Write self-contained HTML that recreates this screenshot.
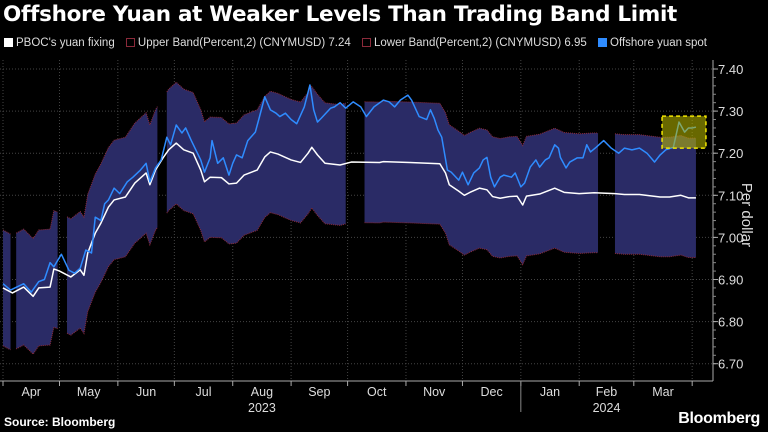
<!DOCTYPE html>
<html><head><meta charset="utf-8"><style>
html,body{margin:0;padding:0;background:#000;width:768px;height:432px;overflow:hidden;font-family:"Liberation Sans",sans-serif;color:#fff}
#title{position:absolute;left:3px;top:2px;font-family:"DejaVu Sans",sans-serif;font-size:21.5px;font-weight:bold;letter-spacing:-0.3px;white-space:nowrap}
#legend{position:absolute;left:4px;top:37px;font-size:11.5px;color:#ddd;white-space:nowrap}
.li{display:inline-block;margin-right:8px}
.sw{display:inline-block;width:9px;height:9px;margin-right:3px;vertical-align:-1px}
#src{position:absolute;left:4px;top:415px;font-size:12px;font-weight:bold}
#bb{position:absolute;right:8px;top:410px;font-size:16px;font-weight:bold;letter-spacing:-0.3px}
svg{position:absolute;left:0;top:0}
</style></head><body>
<div id="title">Offshore Yuan at Weaker Levels Than Trading Band Limit</div>
<div id="legend">
<span class="li"><span class="sw" style="background:#fff"></span>PBOC's yuan fixing</span>
<span class="li"><span class="sw" style="border:1px solid #8b2a3a;width:7px;height:7px"></span>Upper Band(Percent,2) (CNYMUSD) 7.24</span>
<span class="li"><span class="sw" style="border:1px solid #8b2a3a;width:7px;height:7px"></span>Lower Band(Percent,2) (CNYMUSD) 6.95</span>
<span class="li"><span class="sw" style="background:#2f8cff"></span>Offshore yuan spot</span>
</div>
<svg id="chart" width="768" height="432"></svg>
<div id="src">Source: Bloomberg</div>
<div id="bb">Bloomberg</div>
<script>
// days since 2023-04-01
const fixDays=[0,5,11,16,19,25,27,30,36,41,43,45,49,52,56,59,65,70,76,78,81,85,88,92,96,101,105,107,110,116,120,124,128,132,135,139,142,146,153,158,162,164,167,171,179,185,200,202,216,232,235,237,242,245,248,253,257,260,264,269,273,276,278,285,293,298,306,314,325,330,338,349,354,360,364,368];
const fixVals=[6.88,6.868,6.882,6.86,6.88,6.882,6.925,6.92,6.906,6.923,6.91,6.963,7.01,7.034,7.072,7.089,7.096,7.129,7.153,7.125,7.16,7.189,7.208,7.224,7.208,7.2,7.16,7.132,7.143,7.142,7.127,7.129,7.148,7.155,7.16,7.191,7.203,7.198,7.184,7.178,7.2,7.214,7.196,7.176,7.172,7.179,7.178,7.18,7.178,7.175,7.153,7.125,7.11,7.1,7.107,7.117,7.113,7.097,7.093,7.097,7.098,7.077,7.098,7.103,7.117,7.107,7.104,7.106,7.104,7.102,7.102,7.096,7.096,7.1,7.094,7.094];
const spotDays=[0,4,11,15,19,22,25,27,31,35,38,41,44,47,49,52,54,56,59,62,66,69,73,76,78,81,84,87,89,92,95,97,100,105,107,110,111,114,117,120,122,124,127,130,134,136,139,142,145,147,150,153,156,160,163,165,167,169,174,176,179,182,186,190,193,197,202,205,208,211,215,217,221,225,227,229,231,233,236,238,242,244,247,250,253,255,257,259,261,264,266,270,272,275,277,280,283,285,288,290,293,295,296,299,301,305,308,310,312,315,319,323,327,330,334,338,342,346,349,352,356,359,362,364,366,368];
const spotVals=[6.89,6.875,6.89,6.87,6.895,6.9,6.94,6.93,6.96,6.922,6.915,6.927,6.97,6.963,7.048,7.04,7.08,7.089,7.117,7.104,7.132,7.143,7.16,7.176,7.132,7.165,7.184,7.238,7.22,7.267,7.248,7.26,7.23,7.184,7.155,7.189,7.23,7.176,7.189,7.148,7.176,7.196,7.189,7.23,7.25,7.283,7.334,7.303,7.295,7.287,7.295,7.28,7.27,7.31,7.362,7.303,7.274,7.283,7.307,7.31,7.32,7.307,7.322,7.31,7.287,7.31,7.326,7.322,7.31,7.326,7.338,7.326,7.287,7.28,7.303,7.283,7.255,7.238,7.16,7.155,7.136,7.155,7.125,7.153,7.165,7.184,7.19,7.143,7.12,7.143,7.148,7.143,7.153,7.12,7.129,7.167,7.184,7.167,7.184,7.189,7.22,7.212,7.19,7.165,7.179,7.189,7.189,7.22,7.203,7.214,7.23,7.212,7.2,7.212,7.208,7.212,7.2,7.179,7.196,7.208,7.214,7.274,7.25,7.26,7.26,7.262];
const bandPct=2;
const bandGaps=[[4,7],[29,34],[82,87],[182,192],[316,325]];
const yTicks=[7.40,7.30,7.20,7.10,7.00,6.90,6.80,6.70];
const monthLabels=["Apr","May","Jun","Jul","Aug","Sep","Oct","Nov","Dec","Jan","Feb","Mar"];
const monthStarts=[0,30,61,91,122,153,183,214,244,275,306,335,366];
const years=[["2023",0,275],["2024",275,366]];
const highlight=[350,368,7.212,7.288];

const NS="http://www.w3.org/2000/svg";
const svg=document.getElementById('chart');
const X0=3,XD=1.883,PR=713,PT=60,PB=381;
const x=d=>X0+d*XD;
const y=v=>69+(7.40-v)*421;
function el(t,a,p){const e=document.createElementNS(NS,t);for(const k in a)e.setAttribute(k,a[k]);(p||svg).appendChild(e);return e;}
function interp(d){for(let i=0;i<fixDays.length-1;i++){if(d>=fixDays[i]&&d<=fixDays[i+1]){const t=(d-fixDays[i])/(fixDays[i+1]-fixDays[i]||1);return fixVals[i]+t*(fixVals[i+1]-fixVals[i]);}}return fixVals[fixVals.length-1];}

const grid=el('g',{});


yTicks.forEach(v=>{el('line',{x1:0,x2:PR,y1:y(v),y2:y(v),stroke:'#444','stroke-dasharray':'1,2','stroke-width':1},grid);});
monthStarts.forEach(d=>{el('line',{x1:x(d),x2:x(d),y1:PT,y2:PB,stroke:'#444','stroke-dasharray':'1,2','stroke-width':1},grid);});

const last=fixDays[fixDays.length-1];
const segs=[];let s=0;
bandGaps.forEach(g=>{segs.push([s,g[0]]);s=g[1];});segs.push([s,last]);
const bandG=el('g',{});


segs.forEach(([a,b])=>{
  const up=[],lo=[];
  for(let d=a;d<=b;d+=1){const f=interp(d);up.push([x(d),y(f*(1+bandPct/100))]);lo.push([x(d),y(f*(1-bandPct/100))]);}
  const poly=up.concat(lo.slice().reverse()).map(p=>p.join(',')).join(' ');
  el('polygon',{points:poly,fill:'#2a2b66'},bandG);
  el('polyline',{points:up.map(p=>p.join(',')).join(' '),fill:'none',stroke:'#8b2a3a','stroke-width':1,'stroke-dasharray':'1,1'},bandG);
  el('polyline',{points:lo.map(p=>p.join(',')).join(' '),fill:'none',stroke:'#8b2a3a','stroke-width':1,'stroke-dasharray':'1,1'},bandG);
});

const fl=el('polyline',{points:fixDays.map((d,i)=>x(d)+','+y(fixVals[i])).join(' '),fill:'none',stroke:'#fff','stroke-width':1.5,'stroke-linejoin':'round'});


const sl=el('polyline',{points:spotDays.map((d,i)=>x(d)+','+y(spotVals[i])).join(' '),fill:'none',stroke:'#2f8cff','stroke-width':1.5,'stroke-linejoin':'round'});



const hb=el('rect',{x:x(highlight[0]),y:y(highlight[3]),width:x(highlight[1])+10-x(highlight[0]),height:y(highlight[2])-y(highlight[3]),fill:'rgba(190,190,0,0.55)',stroke:'#f2e600','stroke-width':1.5,'stroke-dasharray':'4,3'});



const ax=el('g',{});


el('line',{x1:PR,x2:PR,y1:PT,y2:PB,stroke:'#aaa'},ax);
for(let v=6.70;v<=7.401;v+=0.02){el('line',{x1:PR,x2:PR+3,y1:y(v),y2:y(v),stroke:'#888'},ax);}
yTicks.forEach(v=>{
  el('line',{x1:PR,x2:PR+5,y1:y(v),y2:y(v),stroke:'#aaa'},ax);
  const t=el('text',{x:PR+5,y:y(v)+5,fill:'#ddd','font-size':13,'font-family':'Liberation Sans, sans-serif'},ax);
  t.textContent=v.toFixed(2);
});
const yt=el('text',{x:0,y:0,fill:'#ddd','font-size':15,'text-anchor':'middle',transform:'translate(742,215) rotate(90)','font-family':'Liberation Sans, sans-serif'});
yt.textContent='Per dollar';



const xa=el('g',{});


el('line',{x1:0,x2:PR,y1:PB,y2:PB,stroke:'#aaa'},xa);
monthStarts.forEach(d=>el('line',{x1:x(d),x2:x(d),y1:PB,y2:PB+5,stroke:'#aaa'},xa));
monthLabels.forEach((m,i)=>{
  const t=el('text',{x:(x(monthStarts[i])+x(monthStarts[i+1]))/2,y:PB+15,fill:'#ddd','font-size':12.5,'text-anchor':'middle','font-family':'Liberation Sans, sans-serif'},xa);
  t.textContent=m;
});
el('line',{x1:x(275),x2:x(275),y1:PB,y2:PB+31,stroke:'#888'},xa);
years.forEach(([lab,a,b])=>{
  const t=el('text',{x:(x(a)+x(b))/2,y:PB+31,fill:'#ddd','font-size':12.5,'text-anchor':'middle','font-family':'Liberation Sans, sans-serif'},xa);
  t.textContent=lab;
});
</script>
</body></html>
